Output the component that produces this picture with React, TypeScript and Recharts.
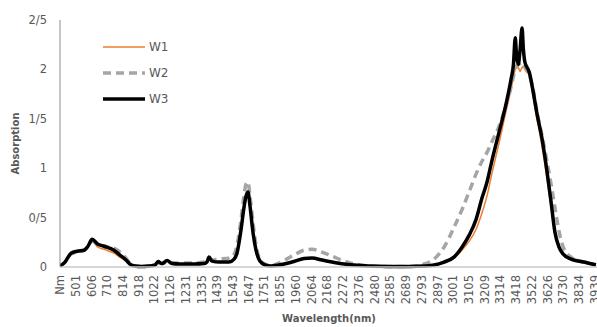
import React from "react";
import { LineChart, Line, XAxis, YAxis, Legend } from "recharts";

const wavelengths = [
  397, 430, 470, 510, 556, 582, 609, 648, 688, 754,
  794, 834, 860, 893, 933, 986, 1026, 1046, 1072, 1106,
  1139, 1185, 1284, 1351, 1370, 1384, 1404, 1450, 1516, 1550,
  1569, 1596, 1615, 1629, 1642, 1655, 1675, 1695, 1721, 1755,
  1794, 1847, 1933, 2013, 2066, 2132, 2198, 2278, 2344, 2443,
  2576, 2708, 2808, 2874, 2940, 3006, 3059, 3106, 3152, 3192,
  3225, 3258, 3304, 3351, 3384, 3400, 3412, 3420, 3432, 3444,
  3457, 3466, 3475, 3490, 3503, 3530, 3556, 3589, 3622, 3649,
  3675, 3702, 3730, 3781, 3867, 3946,
];

const w1Values = [
  0.01, 0.05, 0.13, 0.15, 0.16, 0.2, 0.26, 0.2, 0.18, 0.14,
  0.1, 0.06, 0.025, 0.01, 0.005, 0.01, 0.02, 0.05, 0.03, 0.06,
  0.03, 0.03, 0.03, 0.035, 0.05, 0.09, 0.06, 0.05, 0.05, 0.08,
  0.14, 0.36, 0.56, 0.68, 0.72, 0.6, 0.34, 0.17, 0.06, 0.02,
  0.01, 0.02, 0.05, 0.08, 0.09, 0.07, 0.05, 0.03, 0.02, 0.01,
  0.005, 0.005, 0.01, 0.02, 0.04, 0.09, 0.17, 0.26, 0.38, 0.55,
  0.72, 0.95, 1.25, 1.58, 1.8, 1.92, 2.0, 2.03, 2.02, 1.98,
  2.02, 2.03, 2.0, 1.97, 1.95, 1.72, 1.5, 1.22, 0.9, 0.6,
  0.32, 0.18, 0.12, 0.07, 0.04, 0.015,
];

const w2Values = [
  0.01, 0.05, 0.13, 0.15, 0.17, 0.21, 0.26, 0.23, 0.21, 0.19,
  0.15, 0.09, 0.04, 0.01, 0.005, 0.01, 0.02, 0.04, 0.035, 0.05,
  0.04, 0.04, 0.04, 0.05, 0.06, 0.08, 0.07, 0.08, 0.09, 0.13,
  0.22, 0.48, 0.72, 0.84, 0.86, 0.72, 0.45, 0.22, 0.08, 0.03,
  0.015, 0.04, 0.11, 0.17, 0.18, 0.15, 0.11, 0.06, 0.03, 0.01,
  0.005, 0.005, 0.03, 0.08, 0.2, 0.4, 0.58, 0.76, 0.94, 1.07,
  1.16, 1.27, 1.42, 1.64, 1.82, 1.93, 2.0, 2.03, 2.05, 2.06,
  2.07, 2.06, 2.03, 1.99, 1.95, 1.8, 1.57, 1.33, 1.07, 0.84,
  0.6, 0.36, 0.2, 0.1, 0.05, 0.025,
];

const w3Values = [
  0.01, 0.05, 0.14, 0.16, 0.17, 0.21, 0.28, 0.23, 0.21, 0.17,
  0.12, 0.07, 0.03, 0.01, 0.005, 0.01, 0.02, 0.055, 0.035, 0.065,
  0.035, 0.03, 0.03, 0.035, 0.05, 0.1, 0.06, 0.05, 0.05, 0.08,
  0.14, 0.38, 0.6, 0.72, 0.76, 0.62, 0.35, 0.17, 0.06, 0.02,
  0.01, 0.02, 0.05, 0.085, 0.09, 0.07, 0.05, 0.03, 0.02, 0.01,
  0.005, 0.005, 0.01, 0.02, 0.05, 0.1, 0.2, 0.32, 0.48, 0.7,
  0.86, 1.08, 1.36, 1.65, 1.9, 2.05, 2.32, 2.15, 2.05, 2.2,
  2.42, 2.2, 2.08, 2.02, 1.98, 1.78, 1.55, 1.3, 0.97, 0.66,
  0.35, 0.2, 0.13, 0.08, 0.05, 0.02,
];

const xTickValues = [
  396.8, 501, 606, 710, 814, 918, 1022, 1126, 1231, 1335, 1439, 1543,
  1647, 1751, 1855, 1960, 2064, 2168, 2272, 2376, 2480, 2585, 2689, 2793,
  2897, 3001, 3105, 3209, 3314, 3418, 3522, 3626, 3730, 3834, 3939,
];
const xTickLabels = [
  "Nm", "501", "606", "710", "814", "918", "1022", "1126", "1231", "1335", "1439", "1543",
  "1647", "1751", "1855", "1960", "2064", "2168", "2272", "2376", "2480", "2585", "2689", "2793",
  "2897", "3001", "3105", "3209", "3314", "3418", "3522", "3626", "3730", "3834", "3939",
];

const yTickValues = [0, 0.5, 1, 1.5, 2, 2.5];
const yTickLabels = ["0", "0/5", "1", "1/5", "2", "2/5"];

const seriesNames = ["W1", "W2", "W3"];
const seriesColors = ["#ED7D31", "#A5A5A5", "#000000"];
const seriesWidths = [1.5, 3.5, 3.5];
const seriesDashes = [undefined, "8 5", undefined];

const data = wavelengths.map((w, i) => ({
  w,
  W1: w1Values[i],
  W2: w2Values[i],
  W3: w3Values[i],
}));

const FONT = "'DejaVu Sans', sans-serif";
const TEXT = "#595959";

const XTick = (props: any) => {
  const { x, y, payload } = props;
  const idx = xTickValues.indexOf(payload.value);
  const label = idx >= 0 ? xTickLabels[idx] : String(payload.value);
  return (
    <text
      transform={`translate(${x},${y}) rotate(-90)`}
      textAnchor="end"
      dy="0.35em"
      fontSize={11.5}
      fontFamily={FONT}
      fill={TEXT}
    >
      {label}
    </text>
  );
};

const YTick = (props: any) => {
  const { x, y, payload } = props;
  const idx = yTickValues.indexOf(payload.value);
  const label = idx >= 0 ? yTickLabels[idx] : String(payload.value);
  return (
    <text x={x} y={y} textAnchor="end" dy="0.35em" fontSize={11.5} fontFamily={FONT} fill={TEXT}>
      {label}
    </text>
  );
};

const renderLegend = () => (
  <svg width={90} height={80}>
    {seriesNames.map((name, i) => {
      const cy = 11 + 26 * i;
      return (
        <g key={name}>
          <line
            x1={3}
            x2={45}
            y1={cy}
            y2={cy}
            stroke={seriesColors[i]}
            strokeWidth={seriesWidths[i]}
            strokeDasharray={seriesDashes[i]}
          />
          <text x={49} y={cy} dy="0.35em" fontSize={12} fontFamily={FONT} fill={TEXT}>
            {name}
          </text>
        </g>
      );
    })}
  </svg>
);

export default function App() {
  return (
    <div
      style={{
        position: "absolute",
        left: 0,
        top: 0,
        width: 597,
        height: 327,
        overflow: "hidden",
        background: "#fff",
      }}
    >
      <LineChart
        width={620}
        height={327}
        data={data}
        margin={{ top: 20, right: 22, bottom: 0, left: 0 }}
      >
        <XAxis
          dataKey="w"
          type="number"
          domain={[396.8, 3960]}
          allowDataOverflow
          ticks={xTickValues}
          interval={0}
          tick={<XTick />}
          tickLine={false}
          tickSize={0}
          tickMargin={8}
          height={60}
          stroke="#c8c8c8"
          strokeWidth={1.5}
          label={{
            content: (p: any) => {
              const vb = p.viewBox || { x: 60, y: 267, width: 538, height: 60 };
              return (
                <text
                  x={vb.x + vb.width / 2}
                  y={vb.y + 51}
                  textAnchor="middle"
                  dy="0.35em"
                  fontSize={10}
                  fontWeight="bold"
                  fontFamily={FONT}
                  fill={TEXT}
                >
                  Wavelength(nm)
                </text>
              );
            },
          }}
        />
        <YAxis
          type="number"
          domain={[0, 2.5]}
          ticks={yTickValues}
          interval={0}
          tick={<YTick />}
          tickLine={false}
          tickSize={0}
          tickMargin={13}
          width={60}
          stroke="#8c8c8c"
          label={{
            content: (p: any) => {
              const vb = p.viewBox || { x: 0, y: 20, width: 60, height: 247 };
              const cx = vb.x + 15;
              const cy = vb.y + vb.height / 2;
              return (
                <text
                  x={cx}
                  y={cy}
                  transform={`rotate(-90 ${cx} ${cy})`}
                  textAnchor="middle"
                  dy="0.35em"
                  fontSize={10}
                  fontWeight="bold"
                  fontFamily={FONT}
                  fill={TEXT}
                >
                  Absorption
                </text>
              );
            },
          }}
        />
        <Legend
          layout="horizontal"
          verticalAlign="middle"
          align="center"
          wrapperStyle={{ left: 100, top: 36, width: 90, height: 80 }}
          content={renderLegend}
        />
        {seriesNames.map((name, i) => (
          <Line
            key={name}
            type="monotone"
            dataKey={name}
            stroke={seriesColors[i]}
            strokeWidth={seriesWidths[i]}
            strokeDasharray={seriesDashes[i]}
            dot={false}
            activeDot={false}
            isAnimationActive={false}
          />
        ))}
      </LineChart>
    </div>
  );
}
